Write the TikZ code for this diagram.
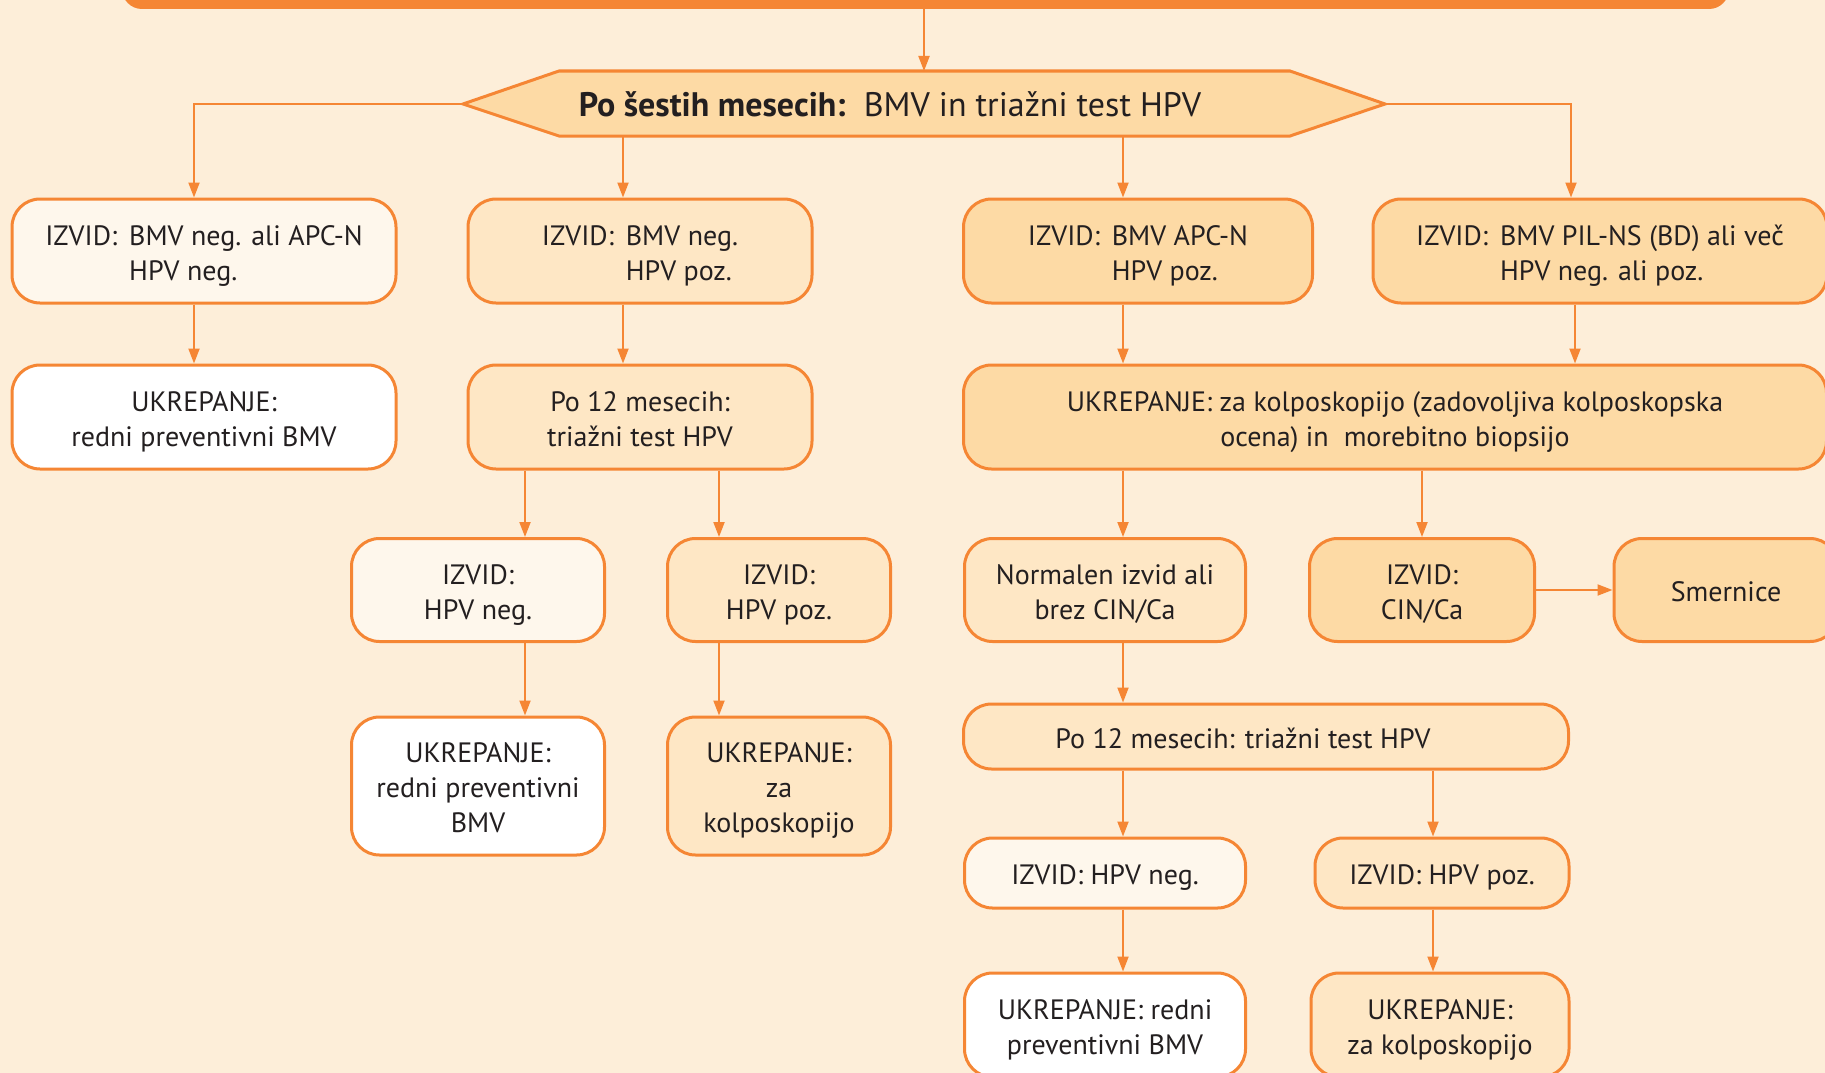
\documentclass[tikz,border=0pt]{standalone}
\usepackage{fontspec}
\setmainfont{PT Sans}
\usetikzlibrary{arrows.meta,calc}
\definecolor{bg}{RGB}{253,238,217}
\definecolor{org}{RGB}{245,134,52}
\definecolor{fmed}{RGB}{253,218,165}
\definecolor{flight}{RGB}{254,231,197}
\definecolor{fvlight}{RGB}{254,247,236}
\definecolor{txt}{RGB}{35,31,32}
\newcommand\boxfont{\fontsize{28}{35}\selectfont}
\newcommand\fl{\rule{0pt}{34pt}}
\newcommand\izv[2]{\begin{tabular}{@{}l@{\hspace{12pt}}l@{}}\rule{0pt}{34pt}IZVID: & #1\\ & #2\end{tabular}}
\begin{document}
\begin{tikzpicture}[x=1pt,y=-1pt,
  box/.style={draw=org, line width=3pt, rounded corners=28pt, inner sep=0pt, align=center, text=txt, font=\boxfont},
  ctext/.style={text depth=10.5pt},
  arr/.style={draw=org, line width=2pt, -{Triangle[length=15pt,width=11pt]}},
]
\useasboundingbox (0,0) rectangle (1825,1073);
\clip (0,0) rectangle (1825,1073);
\fill[bg] (0,0) rectangle (1825,1073);

% top bar
\node[fill=org, rounded corners=20pt, minimum width=1607, minimum height=80, inner sep=0pt] (bar) at (925.5,-31) {};

% hexagon
\coordinate (Hl) at (463,104);
\coordinate (Hr) at (1385,104);
\coordinate (Ht) at (924,71);
\coordinate (Hb) at (924,136);
\path[fill=fmed, draw=org, line width=3pt, line join=miter] (Hl) -- (559,71) -- (1290,71) -- (Hr) -- (1290,136) -- (559,136) -- cycle;
\node[text=txt, font=\fontsize{34}{40}\selectfont, inner sep=0pt] (H) at (890,104) {\textbf{Po šestih mesecih:}\ \ BMV in triažni test HPV};

% x positions of connectors
\coordinate (xa) at (194,0);
\coordinate (xb) at (623,0);
\coordinate (xc) at (1123,0);
\coordinate (xd) at (1571,0);
\coordinate (xe) at (1575,0);
\coordinate (xf) at (525,0);
\coordinate (xg) at (719,0);
\coordinate (xh) at (1422,0);
\coordinate (xi) at (1433,0);

% row 1
\node[box, fill=fvlight, minimum width=384, minimum height=104] (A1) at (204,251) {\izv{BMV neg. ali APC-N}{HPV neg.}};
\node[box, fill=flight, minimum width=344, minimum height=104] (A2) at (640,251) {\izv{BMV neg.}{HPV poz.}};
\node[box, fill=fmed, minimum width=349, minimum height=104] (A3) at (1138,251) {\izv{BMV APC-N}{HPV poz.}};
\node[box, fill=fmed, minimum width=454, minimum height=104] (A4) at (1600,251) {\izv{BMV PIL-NS (BD) ali več}{HPV neg. ali poz.}};

% row 2
\node[box, ctext, fill=white, minimum width=384, minimum height=104] (B1) at (204,417) {\fl UKREPANJE:\\redni preventivni BMV};
\node[box, ctext, fill=flight, minimum width=344, minimum height=104] (B2) at (640,417) {\fl Po 12 mesecih:\\triažni test HPV};
\node[box, ctext, fill=fmed, minimum width=863, minimum height=104] (B3) at (1395,417) {\fl UKREPANJE: za kolposkopijo (zadovoljiva kolposkopska\\ocena) in\ \ morebitno biopsijo};

% row 3
\node[box, ctext, fill=fvlight, minimum width=253, minimum height=103] (C1) at (478,590) {\fl IZVID:\\HPV neg.};
\node[box, ctext, fill=flight, minimum width=223, minimum height=103] (C2) at (779,590) {\fl IZVID:\\HPV poz.};
\node[box, ctext, fill=flight, minimum width=281, minimum height=103] (C3) at (1105,590) {\fl Normalen izvid ali\\brez CIN/Ca};
\node[box, ctext, fill=fmed, minimum width=225, minimum height=103] (C4) at (1422,590) {\fl IZVID:\\CIN/Ca};
\node[box, ctext, fill=fmed, minimum width=224, minimum height=103] (C5) at (1726,590) {\fl Smernice};

% row 4 left
\node[box, ctext, fill=white, minimum width=253, minimum height=138] (D1) at (478,786) {\fl UKREPANJE:\\redni preventivni\\BMV};
\node[box, ctext, fill=flight, minimum width=223, minimum height=138] (D2) at (779,786) {\fl UKREPANJE:\\za\\kolposkopijo};

% right lower part
\node[box, ctext, fill=flight, minimum width=605, minimum height=65] (E) at (1266,736.5) {\fl Po 12 mesecih: triažni test HPV\hspace*{46pt}};
\node[box, ctext, fill=fvlight, minimum width=281, minimum height=70] (F1) at (1105,873) {\fl IZVID: HPV neg.};
\node[box, ctext, fill=flight, minimum width=254, minimum height=70] (F2) at (1442,873) {\fl IZVID: HPV poz.};
\node[box, ctext, fill=white, minimum width=281, minimum height=104] (G1) at (1105,1025) {\fl UKREPANJE: redni\\preventivni BMV};
\node[box, ctext, fill=flight, minimum width=258, minimum height=104] (G2) at (1440,1025) {\fl UKREPANJE:\\za kolposkopijo};

% connectors
\draw[arr] (bar.south -| Ht) -- (Ht);
\draw[arr] (Hl) -| (A1.north -| xa);
\draw[arr] (Hr) -| (A4.north -| xd);
\draw[arr] (Hb -| xb) -- (A2.north -| xb);
\draw[arr] (Hb -| xc) -- (A3.north -| xc);

\draw[arr] (A1.south -| xa) -- (B1.north -| xa);
\draw[arr] (A2.south -| xb) -- (B2.north -| xb);
\draw[arr] (A3.south -| xc) -- (B3.north -| xc);
\draw[arr] (A4.south -| xe) -- (B3.north -| xe);

\draw[arr] (B2.south -| xf) -- (C1.north -| xf);
\draw[arr] (B2.south -| xg) -- (C2.north -| xg);
\draw[arr] (B3.south -| xc) -- (C3.north -| xc);
\draw[arr] (B3.south -| xh) -- (C4.north -| xh);
\draw[arr] (C4.east) -- (C5.west);

\draw[arr] (C1.south -| xf) -- (D1.north -| xf);
\draw[arr] (C2.south -| xg) -- (D2.north -| xg);

\draw[arr] (C3.south -| xc) -- (E.north -| xc);
\draw[arr] (E.south -| xc) -- (F1.north -| xc);
\draw[arr] (E.south -| xi) -- (F2.north -| xi);
\draw[arr] (F1.south -| xc) -- (G1.north -| xc);
\draw[arr] (F2.south -| xi) -- (G2.north -| xi);
\end{tikzpicture}
\end{document}
